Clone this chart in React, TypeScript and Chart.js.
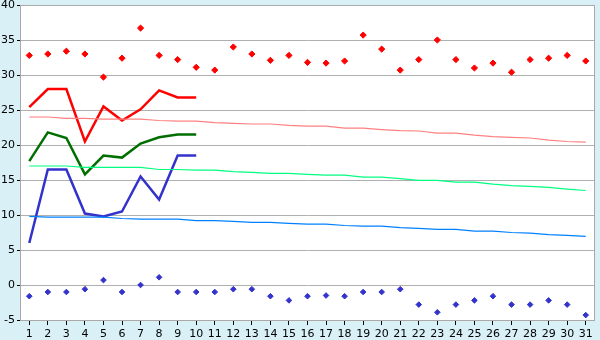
import React, { useEffect, useRef } from 'react';
import { Chart, registerables } from 'chart.js';

Chart.register(...registerables);

const days = ['1','2','3','4','5','6','7','8','9','10','11','12','13','14','15','16','17','18','19','20','21','22','23','24','25','26','27','28','29','30','31'];

const recordMax = [32.8,33.0,33.4,33.0,29.7,32.4,36.7,32.8,32.2,31.1,30.7,34.0,33.0,32.1,32.8,31.8,31.7,32.0,35.7,33.7,30.7,32.2,35.0,32.2,31.0,31.7,30.4,32.2,32.4,32.8,32.0];
const recordMin = [-1.6,-1.0,-1.0,-0.6,0.7,-1.0,0.0,1.1,-1.0,-1.0,-1.0,-0.6,-0.6,-1.6,-2.2,-1.6,-1.5,-1.6,-1.0,-1.0,-0.6,-2.8,-3.9,-2.8,-2.2,-1.6,-2.8,-2.8,-2.2,-2.8,-4.3];

const actualMax = [25.4,28.0,28.0,20.5,25.5,23.5,25.1,27.8,26.8,26.8];
const actualMean = [17.7,21.8,21.0,15.8,18.5,18.2,20.2,21.1,21.5,21.5];
const actualMin = [6.0,16.5,16.5,10.2,9.8,10.5,15.5,12.2,18.5,18.5];

const normalMax = [24.0,24.0,23.8,23.8,23.7,23.7,23.7,23.5,23.4,23.4,23.2,23.1,23.0,23.0,22.8,22.7,22.7,22.4,22.4,22.2,22.05,22.0,21.7,21.7,21.4,21.2,21.1,21.0,20.7,20.5,20.4];
const normalMean = [17.0,17.0,17.0,16.8,16.8,16.8,16.8,16.5,16.5,16.4,16.4,16.2,16.1,15.95,15.95,15.8,15.7,15.7,15.4,15.4,15.2,14.95,14.95,14.7,14.7,14.4,14.2,14.1,13.95,13.7,13.5];
const normalMin = [9.8,9.7,9.7,9.7,9.7,9.5,9.4,9.4,9.4,9.2,9.2,9.1,8.95,8.95,8.8,8.7,8.7,8.5,8.4,8.4,8.2,8.1,7.95,7.95,7.7,7.7,7.5,7.4,7.2,7.1,6.95];

const yTicks = [-5, 0, 5, 10, 15, 20, 25, 30, 35, 40];

const bgPlugin = {
  id: 'bgPlugin',
  beforeDraw(chart: any) {
    const { ctx, chartArea: a, width, height } = chart;
    ctx.save();
    ctx.fillStyle = '#d9f0f7';
    ctx.fillRect(0, 0, width, height);
    ctx.fillStyle = '#ffffff';
    ctx.fillRect(a.left, a.top, a.right - a.left, a.bottom - a.top);
    ctx.restore();
  },
  beforeDatasetsDraw(chart: any) {
    const { ctx, chartArea: a } = chart;
    ctx.save();
    ctx.strokeStyle = '#a9a9a9';
    ctx.lineWidth = 1;
    ctx.strokeRect(a.left + 0.5, a.top + 0.5, a.right - a.left - 1, a.bottom - a.top);
    ctx.restore();
  },
};

export default function App() {
  const ref = useRef<HTMLCanvasElement>(null);
  useEffect(() => {
    if (!ref.current) return;
    const font = { family: 'DejaVu Sans', size: 11 };
    const chart = new Chart(ref.current, {
      type: 'line',
      data: {
        labels: days,
        datasets: [
          { data: normalMax, borderColor: '#ff8080', borderWidth: 1.2, pointRadius: 0, fill: false },
          { data: normalMean, borderColor: '#00ff80', borderWidth: 1.2, pointRadius: 0, fill: false },
          { data: normalMin, borderColor: '#0080ff', borderWidth: 1.2, pointRadius: 0, fill: false },
          { data: actualMax, borderColor: '#ff0000', borderWidth: 2.5, pointRadius: 0, fill: false },
          { data: actualMean, borderColor: '#006f00', borderWidth: 2.5, pointRadius: 0, fill: false },
          { data: actualMin, borderColor: '#3333cc', borderWidth: 2.5, pointRadius: 0, fill: false },
          { data: recordMax, showLine: false, pointStyle: 'rectRot', pointRadius: 3.1, backgroundColor: '#ff0000', borderColor: '#ff0000', borderWidth: 1 },
          { data: recordMin, showLine: false, pointStyle: 'rectRot', pointRadius: 2.8, backgroundColor: '#3333cc', borderColor: '#3333cc', borderWidth: 1 },
        ],
      },
      options: {
        animation: false,
        responsive: false,
        maintainAspectRatio: false,
        layout: { padding: { top: 5, right: 5, left: 0, bottom: 0 } },
        plugins: { legend: { display: false }, tooltip: { enabled: false } },
        elements: { line: { tension: 0 } },
        scales: {
          x: {
            type: 'category',
            offset: true,
            grid: { drawOnChartArea: false, drawTicks: true, tickLength: 5, tickColor: '#000000', offset: false },
            border: { display: false },
            ticks: { color: '#000000', font, padding: 3, maxRotation: 0, autoSkip: false },
            afterFit: (s: any) => { s.height = 20; s.paddingLeft = 0; s.paddingRight = 0; },
          },
          y: {
            min: -5,
            max: 40,
            afterBuildTicks: (s: any) => { s.ticks = yTicks.map((v) => ({ value: v })); },
            grid: { color: '#b0b0b0', tickColor: '#000000', tickLength: 3, drawTicks: true },
            border: { display: false },
            ticks: { color: '#000000', font, padding: 2 },
            afterFit: (s: any) => { s.width = 20; s.paddingTop = 0; s.paddingBottom = 0; },
          },
        },
      },
      plugins: [bgPlugin],
    });
    return () => chart.destroy();
  }, []);
  return (
    <div style={{ position: 'absolute', left: 0, top: 0, width: 600, height: 340 }}>
      <canvas ref={ref} width={600} height={340} style={{ display: 'block' }} />
    </div>
  );
}
